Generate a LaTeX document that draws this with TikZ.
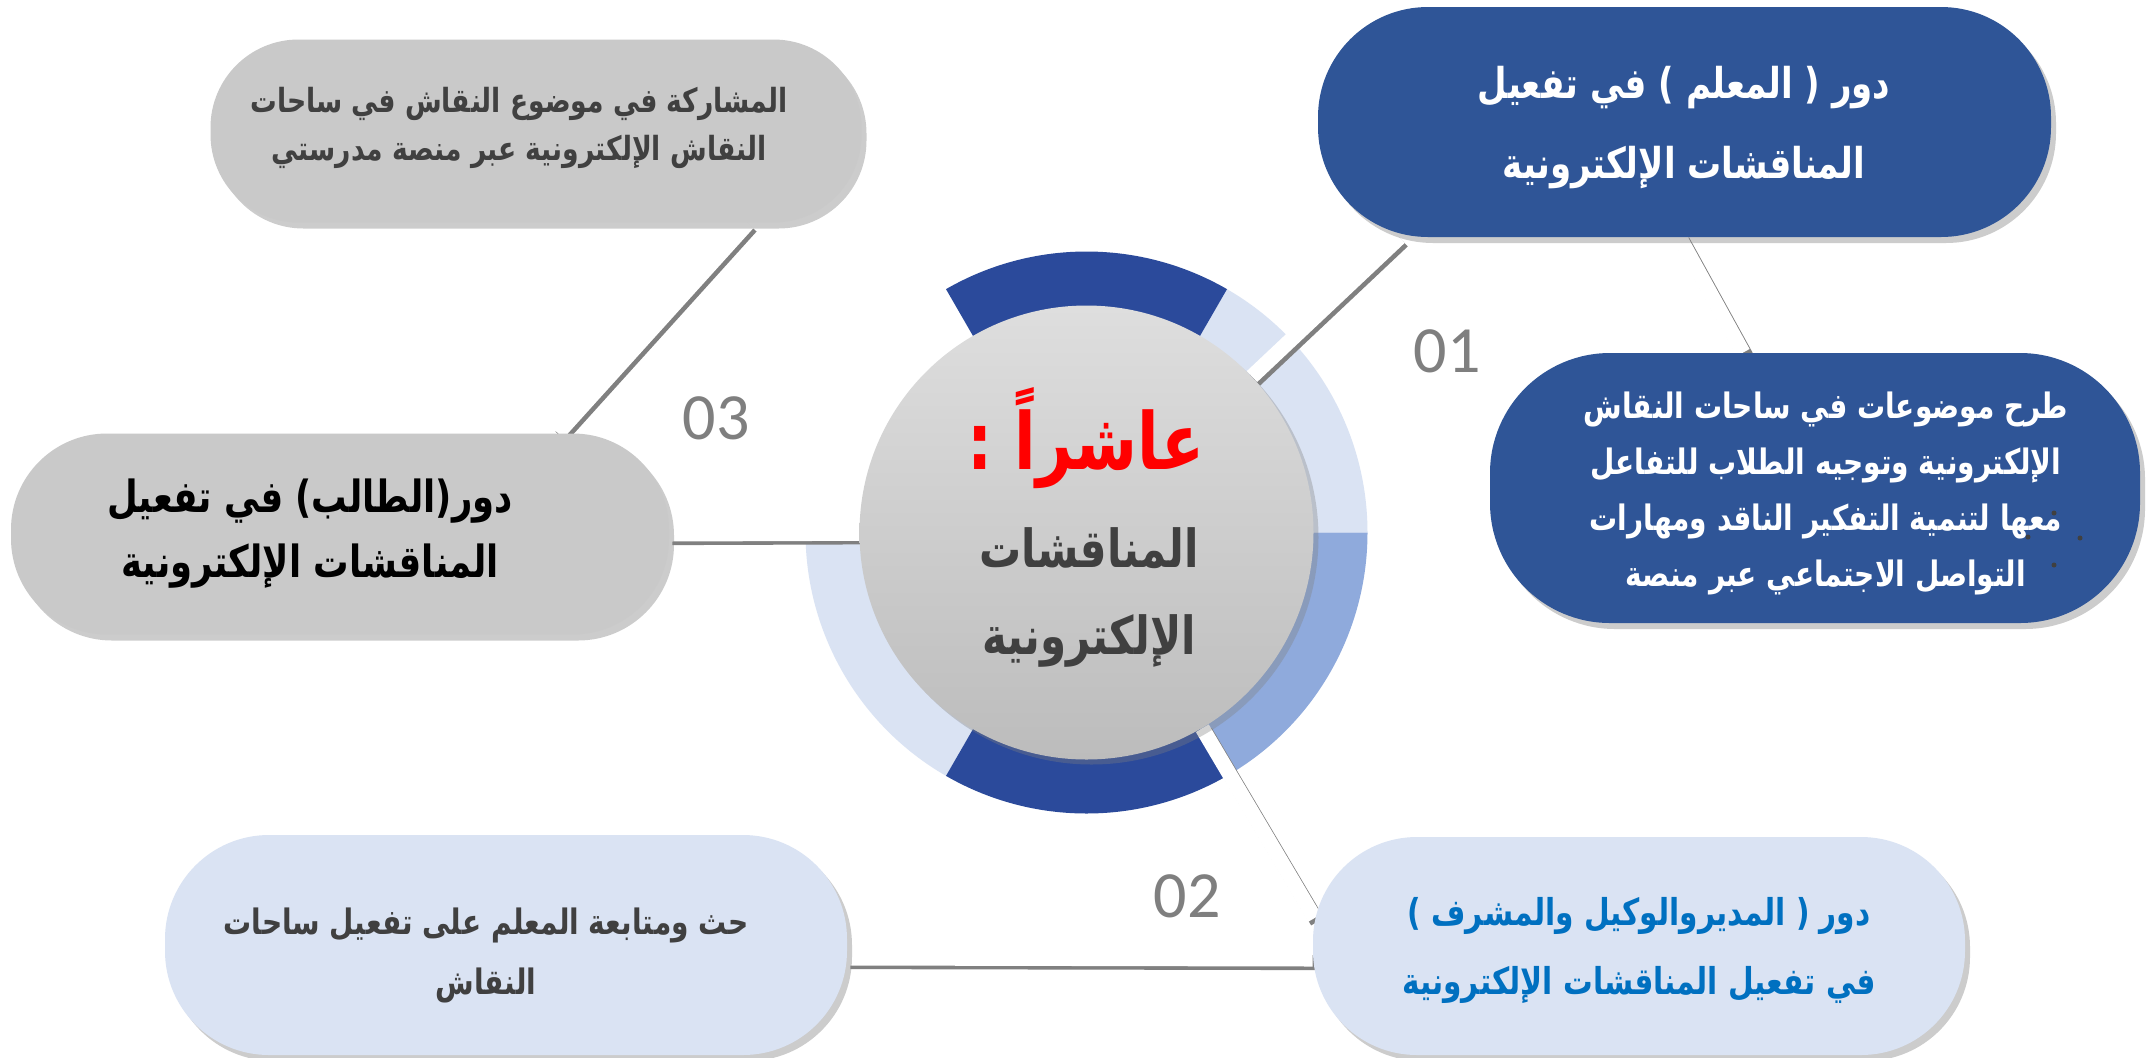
\documentclass[tikz,border=0pt]{standalone}
\usepackage{fontspec}
\usepackage{graphicx}
\setmainfont{DejaVu Sans}
\newfontfamily\ar[Script=Arabic]{DejaVu Sans}
\newfontfamily\numfont{Carlito}
\TeXXeTstate=1
\usetikzlibrary{shadows,calc}
\pgfdeclarelayer{bglayer}
\pgfdeclarelayer{ringlayer}
\pgfdeclarelayer{connlayer}
\pgfsetlayers{bglayer,ringlayer,connlayer,main}
\definecolor{pilldark}{HTML}{2F5597}
\definecolor{ringdark}{HTML}{2B4A9B}
\definecolor{lightblue}{HTML}{DAE3F3}
\definecolor{medblue}{HTML}{8FAADC}
\definecolor{pillgray}{HTML}{C9C9C9}
\definecolor{txtgray}{HTML}{404040}
\definecolor{txtblue}{HTML}{0070C0}
\definecolor{numgray}{HTML}{7F7F7F}
\definecolor{circtop}{HTML}{DEDEDE}
\definecolor{circbot}{HTML}{BCBCBC}
\newcommand\ringseg[3]{\fill[#1] (#2:281) arc[start angle=#2,end angle=#3,radius=281] -- (#3:215) arc[start angle=#3,end angle=#2,radius=215] -- cycle;}
\newcommand\connect[2]{\draw[connshadow] #1 -- #2; \draw[connline] #1 -- #2;}
\newcommand\artxt[1]{\scalebox{1}[1.25]{\begin{tabular}{@{}c@{}}#1\end{tabular}}}
\begin{document}
\begin{tikzpicture}[x=0.5pt,y=-0.5pt,
  pill/.style={rectangle, inner sep=0pt, drop shadow={shadow xshift=2.5pt, shadow yshift=-3pt, opacity=0.4}},
  connline/.style={draw=white, line width=7.5pt},
  connshadow/.style={draw=black!50, line width=7.5pt, transform canvas={shift={(1.5pt,-1.8pt)}}},
  artext/.style={align=center, inner sep=0pt},
  numlabel/.style={font=\numfont\fontsize{33}{36}\selectfont, text=numgray, inner sep=0pt}]
\useasboundingbox (0,0) rectangle (2148,1057);
\begin{pgfonlayer}{bglayer}
\fill[white] (0,0) rectangle (2148,1057);
\end{pgfonlayer}
% ring
\begin{pgfonlayer}{ringlayer}
\begin{scope}[shift={(1086.5,532.5)}, y=0.5pt]
\ringseg{lightblue}{0}{60}
\ringseg{ringdark}{60}{120}
\ringseg{lightblue}{180}{240}
\ringseg{ringdark}{240}{300}
\ringseg{medblue}{300}{360}
\end{scope}
\end{pgfonlayer}
% centre circle
\node[circle, minimum size=227pt, inner sep=0pt, top color=circtop, bottom color=circbot, drop shadow={shadow xshift=2.5pt, shadow yshift=-2.5pt, opacity=0.35}] (C) at (1086.5,532.5) {};
% pills
\node[pill, fill=pilldark, rounded corners=55pt, minimum width=366.5pt, minimum height=115pt] (P1) at (1684.5,122) {};
\node[pill, fill=pilldark, rounded corners=60pt, minimum width=325pt, minimum height=135pt] (P2) at (1815,488) {};
\node[pill, fill=lightblue, rounded corners=52pt, minimum width=326pt, minimum height=109pt] (P3) at (1639,946) {};
\node[pill, fill=lightblue, rounded corners=52pt, minimum width=341pt, minimum height=110pt] (P4) at (506,945) {};
\node[pill, fill=pillgray, rounded corners=48pt, minimum width=329pt, minimum height=100.5pt] (P5) at (340,534) {};
\node[pill, fill=pillgray, rounded corners=44pt, minimum width=325.5pt, minimum height=91.5pt] (P6) at (536,131) {};
% connectors
\begin{pgfonlayer}{connlayer}
\connect{($(P1.south west)+(82,0)$)}{(C)}
\connect{($(P1.south)+(-5,0)$)}{($(P2.north)+(-72,0)$)}
\connect{(C)}{($(P3.west)+(2,-28)$)}
\connect{($(P4.east)+(0,13)$)}{($(P3.west)+(0,13)$)}
\connect{(P5.east)}{(C)}
\connect{($(P6.south)+(212,0)$)}{($(P5.north)+(218,0)$)}
\end{pgfonlayer}
% texts
\node[artext, text=white, font=\ar\bfseries\fontsize{17}{32}\selectfont] (T1) at (1684,122) {\artxt{\beginR دور ( المعلم ) في تفعيل\endR\\\beginR المناقشات الإلكترونية\endR}};
\node[artext, text=white, font=\ar\bfseries\fontsize{14}{22.4}\selectfont] (T2) at (1826,491) {\artxt{\beginR طرح موضوعات في ساحات النقاش\endR\\\beginR الإلكترونية وتوجيه الطلاب للتفاعل\endR\\\beginR معها لتنمية التفكير الناقد ومهارات\endR\\\beginR التواصل الاجتماعي عبر منصة\endR}};
\node[artext, text=txtblue, font=\ar\bfseries\fontsize{14.8}{27.6}\selectfont] (T3) at (1639,946) {\artxt{\beginR دور ( المديروالوكيل والمشرف )\endR\\\beginR في تفعيل المناقشات الإلكترونية\endR}};
\node[artext, text=txtgray, font=\ar\bfseries\fontsize{14}{24}\selectfont] (T4) at (486,952) {\artxt{\beginR حث ومتابعة المعلم على تفعيل ساحات\endR\\\beginR النقاش\endR}};
\node[artext, text=black, font=\ar\bfseries\fontsize{17.7}{26}\selectfont] (T5) at (310,532) {\artxt{\beginR دور(الطالب) في تفعيل\endR\\\beginR المناقشات الإلكترونية\endR}};
\node[artext, text=txtgray, font=\ar\bfseries\fontsize{13.3}{19.2}\selectfont] (T6) at (519,127) {\artxt{\beginR المشاركة في موضوع النقاش في ساحات\endR\\\beginR النقاش الإلكترونية عبر منصة مدرستي\endR}};
\node[artext, text=red, font=\ar\bfseries\fontsize{31.5}{34}\selectfont] (TC1) at (1086,441) {\artxt{\beginR عاشراً :\endR}};
\node[artext, text=txtgray, font=\ar\bfseries\fontsize{21}{34.8}\selectfont] (TC2) at (1089,594) {\artxt{\beginR المناقشات\endR\\\beginR الإلكترونية\endR}};
% numbers
\node[numlabel] (N1) at (1447,351) {01};
\node[numlabel] (N2) at (1187,896) {02};
\node[numlabel] (N3) at (716,418) {03};
% stray bullet dots
\foreach \dx/\dy in {2054/513, 2028/537, 2080/538, 2054/565} \fill[txtgray] (\dx,\dy) circle[radius=2.5];
\end{tikzpicture}
\end{document}
